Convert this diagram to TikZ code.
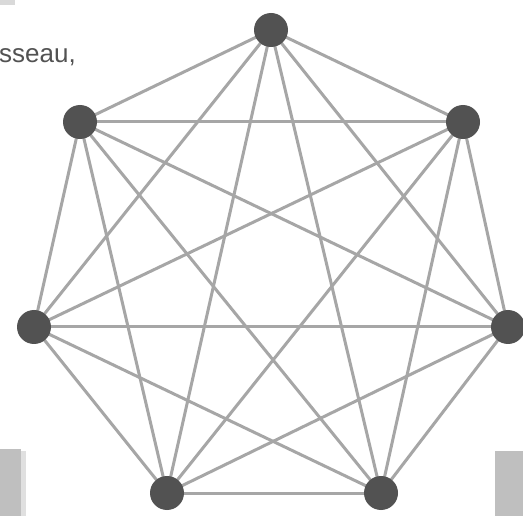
\documentclass[tikz,border=0pt]{standalone}
\usepackage{fontspec}
\setmainfont{Liberation Sans}
\usetikzlibrary{backgrounds}
\begin{document}
\begin{tikzpicture}[x=1pt,y=-1pt,
  vertex/.style={circle,fill=black!68,minimum size=34pt,inner sep=0pt},
  edge/.style={draw=black!35,line width=3pt},
  panel/.style={fill=black!25}]
\useasboundingbox (0,0) rectangle (523,516);
% vertices
\node[vertex] (a) at (271,30) {};
\node[vertex] (b) at (463,122) {};
\node[vertex] (c) at (508,327) {};
\node[vertex] (d) at (381,493) {};
\node[vertex] (e) at (167,493) {};
\node[vertex] (f) at (34,327) {};
\node[vertex] (g) at (80,122) {};
\node[anchor=base west,inner sep=0pt,text=black!68,font=\fontsize{26}{30}\selectfont] (txt) at (-1,63) {sseau,};
\begin{pgfonlayer}{background}
\fill[white] (0,0) rectangle (523,516);
\fill[black!12] (21,451) rectangle (26,516);
\fill[panel] (0,449) rectangle (21,516);
\fill[panel] (495,451) rectangle (523,516);
\fill[black!15] (0,0) rectangle (15,5);
\foreach \u/\v in {a/b,a/c,a/d,a/e,a/f,a/g,b/c,b/d,b/e,b/f,b/g,c/d,c/e,c/f,c/g,d/e,d/f,d/g,e/f,e/g,f/g}
  \draw[edge] (\u.center) -- (\v.center);
\end{pgfonlayer}
\end{tikzpicture}
\end{document}
